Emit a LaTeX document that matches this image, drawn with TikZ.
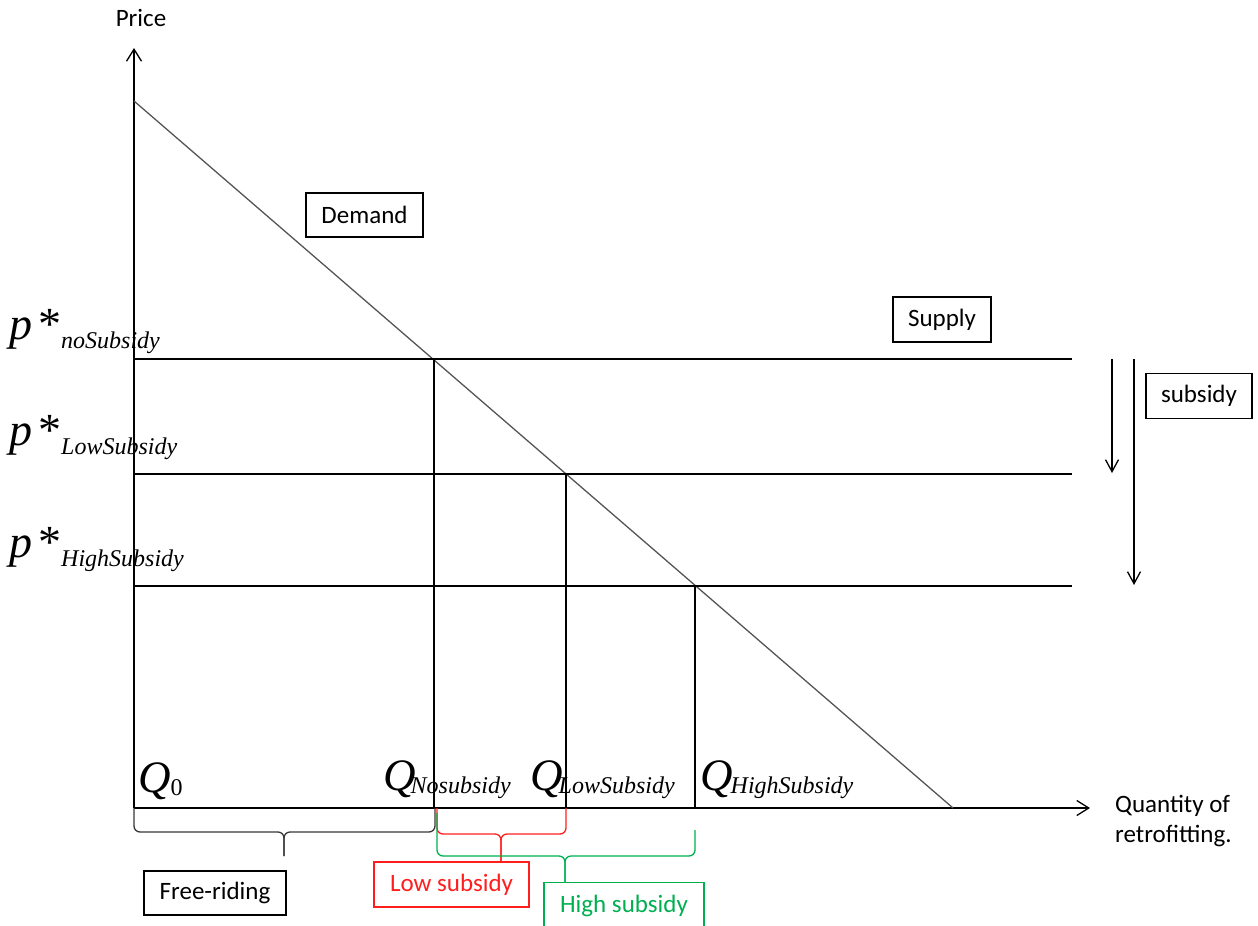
\documentclass[tikz,border=0pt]{standalone}
\usepackage{fontspec}
\setmainfont{Carlito}
\newfontfamily\tnr{Liberation Serif}
\usetikzlibrary{arrows.meta}
\definecolor{myred}{RGB}{255,30,30}
\definecolor{mygreen}{RGB}{0,176,80}
\definecolor{demgray}{RGB}{85,85,85}
\definecolor{bracegray}{RGB}{55,55,55}
\newcommand{\bigit}[1]{{\tnr\fontsize{46}{46}\selectfont\itshape #1}}
\newcommand{\bigQ}{{\tnr\fontsize{45}{45}\selectfont\itshape Q}}
\newcommand{\subit}[1]{\raisebox{-3pt}{\tnr\fontsize{24}{24}\selectfont\itshape #1}}
\newcommand{\psub}[1]{\bigit{p}\kern6pt{\tnr\fontsize{46}{46}\selectfont *}\raisebox{-9pt}{\tnr\fontsize{24}{24}\selectfont\itshape #1}}
\begin{document}
\begin{tikzpicture}[x=1pt,y=-1pt,
  ln/.style={line width=1.3pt},
  axisarrow/.style={line width=1.3pt,-{Straight Barb[length=12pt,width=15pt,line width=1.3pt]}},
  boxnode/.style={draw,line width=1.3pt,inner sep=0pt,font=\fontsize{25}{30}\selectfont},
  txt/.style={inner sep=0pt,font=\fontsize{25}{30}\selectfont},
  mlbl/.style={inner sep=0pt,anchor=base west},
  bracepath/.style={line width=1.3pt,rounded corners=6pt}
]
\useasboundingbox (0,0) rectangle (1258,926);

% axes
\coordinate (O) at (134,808);
\coordinate (ytop) at (134,48);
\coordinate (xend) at (1090,808);
\draw[axisarrow] (O) -- (ytop);
\draw[axisarrow] (O) -- (xend);
\node[txt] (price) at (141,18) {Price};
\node[txt,anchor=base west] (qty1) at (1115,812) {Quantity of};
\node[txt,anchor=base west] (qty2) at (1115,842) {retrofitting.};

% demand
\coordinate (dA) at (134,101);
\coordinate (dB) at (953,808);
\draw[line width=1.3pt,demgray] (dA) -- (dB);

% supply lines
\coordinate (s1L) at (134,359); \coordinate (s1R) at (1072,359);
\coordinate (s2L) at (134,474); \coordinate (s2R) at (1072,474);
\coordinate (s3L) at (134,586); \coordinate (s3R) at (1072,586);
\draw[ln] (s1L) -- (s1R);
\draw[ln] (s2L) -- (s2R);
\draw[ln] (s3L) -- (s3R);

% intersections and verticals
\coordinate (n1) at (434,359);
\coordinate (n2) at (566,474);
\coordinate (n3) at (695,586);
\draw[ln] (n1) -- (n1 |- O);
\draw[ln] (n2) -- (n2 |- O);
\draw[ln] (n3) -- (n3 |- O);

% boxes
\node[boxnode,minimum width=117pt,minimum height=44pt] (demand) at (364.5,215) {Demand};
\node[boxnode,minimum width=98pt,minimum height=45pt] (supply) at (942,319.5) {Supply};
\node[boxnode,minimum width=106pt,minimum height=45pt] (subsidy) at (1199,396) {subsidy};

% subsidy arrows
\coordinate (a1s) at (1112,359); \coordinate (a1e) at (1112,473);
\coordinate (a2s) at (1134,359); \coordinate (a2e) at (1134,585);
\draw[line width=1.3pt,-{Straight Barb[length=12pt,width=13pt,line width=1.3pt]}] (a1s) -- (a1e);
\draw[line width=1.3pt,-{Straight Barb[length=12pt,width=13pt,line width=1.3pt]}] (a2s) -- (a2e);

% price labels
\node[mlbl] (p1) at (9,339) {\psub{noSubsidy}};
\node[mlbl] (p2) at (9,445) {\psub{LowSubsidy}};
\node[mlbl] (p3) at (9,557) {\psub{HighSubsidy}};

% quantity labels
\node[mlbl] (q0) at (138,792) {\bigQ\kern0pt\raisebox{-3pt}{\tnr\fontsize{24}{24}\selectfont 0}};
\node[mlbl] (qn) at (383,790) {\bigQ\kern-5pt\subit{Nosubsidy}};
\node[mlbl] (ql) at (530,790) {\bigQ\kern-4pt\subit{LowSubsidy}};
\node[mlbl] (qh) at (700,790) {\bigQ\kern-2pt\subit{HighSubsidy}};

% label boxes below
\node[boxnode,minimum width=142pt,minimum height=44pt] (free) at (215,893) {Free-riding};
\node[boxnode,draw=myred,text=myred,minimum width=155pt,minimum height=45pt] (low) at (451.5,884.5) {Low subsidy};
\node[boxnode,draw=mygreen,text=mygreen,minimum width=160pt,minimum height=46pt,anchor=north] (high) at (624,882) {High subsidy};

% braces
\coordinate (fbL) at (134,808); \coordinate (fbR) at (435,808);
\coordinate (fbT) at (284,856);
\draw[bracepath,bracegray] (fbL) -- (fbL |- 0,832) -- (fbT |- 0,832) -- (fbT);
\draw[bracepath,bracegray] (fbR) -- (fbR |- 0,832) -- (fbT |- 0,832) -- (fbT);

\coordinate (rbL) at (437,808); \coordinate (rbR) at (566,808);
\coordinate (rbT) at (low.north -| 501,0);
\draw[bracepath,myred] (rbL) -- (rbL |- 0,834) -- (rbT |- 0,834) -- (rbT);
\draw[bracepath,myred] (rbR) -- (rbR |- 0,834) -- (rbT |- 0,834) -- (rbT);

\coordinate (gbL) at (437,813); \coordinate (gbR) at (695,830);
\coordinate (gbT) at (high.north -| 565,0);
\draw[bracepath,mygreen] (gbL) -- (gbL |- 0,856) -- (gbT |- 0,856) -- (gbT);
\draw[bracepath,mygreen] (gbR) -- (gbR |- 0,856) -- (gbT |- 0,856) -- (gbT);
\end{tikzpicture}
\end{document}
